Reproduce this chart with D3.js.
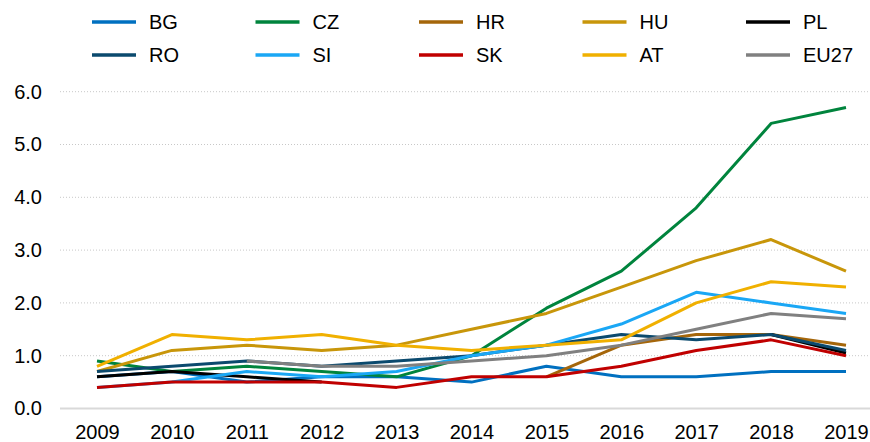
<!DOCTYPE html>
<html>
<head>
<meta charset="utf-8">
<script src="https://cdnjs.cloudflare.com/ajax/libs/d3/7.8.5/d3.min.js"></script>
<style>
  body { margin: 0; background: #fff; }
  text { font-family: "Liberation Sans", Arial, sans-serif; fill: #000; }
</style>
</head>
<body>
<script>
var years = [2009, 2010, 2011, 2012, 2013, 2014, 2015, 2016, 2017, 2018, 2019];
var yTicks = [0, 1, 2, 3, 4, 5, 6];

var BG   = [0.6, 0.7, 0.5, 0.6, 0.6, 0.5, 0.8, 0.6, 0.6, 0.7, 0.7];
var CZ   = [0.9, 0.7, 0.8, 0.7, 0.6, 1.0, 1.9, 2.6, 3.8, 5.4, 5.7];
var HR   = [null, null, null, null, null, null, 0.6, 1.2, 1.4, 1.4, 1.2];
var HU   = [0.7, 1.1, 1.2, 1.1, 1.2, 1.5, 1.8, 2.3, 2.8, 3.2, 2.6];
var PL   = [0.6, 0.7, 0.6, 0.5, null, null, null, null, null, 1.4, 1.05];
var RO   = [0.7, 0.8, 0.9, 0.8, 0.9, 1.0, 1.2, 1.4, 1.3, 1.4, 1.1];
var SI   = [0.4, 0.5, 0.7, 0.6, 0.7, 1.0, 1.2, 1.6, 2.2, 2.0, 1.8];
var SK   = [0.4, 0.5, 0.5, 0.5, 0.4, 0.6, 0.6, 0.8, 1.1, 1.3, 1.0];
var AT   = [0.8, 1.4, 1.3, 1.4, 1.2, 1.1, 1.2, 1.3, 2.0, 2.4, 2.3];
var EU27 = [null, null, 0.9, 0.8, 0.8, 0.9, 1.0, 1.2, 1.5, 1.8, 1.7];

var names  = ["BG", "CZ", "HR", "HU", "PL", "RO", "SI", "SK", "AT", "EU27"];
var colors = ["#0070C0", "#00843D", "#A5660A", "#C8960A", "#000000",
              "#0B4A6E", "#1AA7F5", "#C00000", "#F0B000", "#808080"];

var series = [BG, CZ, HR, HU, PL, RO, SI, SK, AT, EU27].map(function(vals, i) {
    return { name: names[i], color: colors[i], values: vals };
});

var width = 870, height = 442,
    plotLeft = 60, plotRight = 870,
    plotTop = 91.7, plotBottom = 408.5;

var svg = d3.select("body").append("svg")
    .attr("width", width)
    .attr("height", height);

var x = d3.scalePoint()
    .domain(years)
    .range([97, 846]);

var y = d3.scaleLinear()
    .domain([0, 6])
    .range([plotBottom, plotTop]);

// dotted gridlines
svg.append("g")
    .attr("class", "grid")
  .selectAll("line")
    .data(yTicks.slice(1))
  .enter().append("line")
    .attr("x1", plotLeft)
    .attr("x2", plotRight)
    .attr("y1", function(d) { return y(d); })
    .attr("y2", function(d) { return y(d); })
    .attr("stroke", "#c8c8c8")
    .attr("stroke-width", 1)
    .attr("stroke-dasharray", "1,2");

// baseline
svg.append("line")
    .attr("x1", plotLeft)
    .attr("x2", plotRight)
    .attr("y1", y(0))
    .attr("y2", y(0))
    .attr("stroke", "#d9d9d9")
    .attr("stroke-width", 2);

var yAxis = d3.axisLeft(y)
    .tickValues(yTicks)
    .tickSize(0)
    .tickPadding(18)
    .tickFormat(d3.format(".1f"));

svg.append("g")
    .attr("class", "y axis")
    .attr("transform", "translate(" + plotLeft + ",0)")
    .call(yAxis)
    .call(function(g) { g.select(".domain").remove(); })
    .selectAll("text")
    .style("font-size", "20px")
    .style("font-family", "'Liberation Sans', Arial, sans-serif")
    .attr("fill", "#000");

var xAxis = d3.axisBottom(x)
    .tickSize(0)
    .tickPadding(16);

svg.append("g")
    .attr("class", "x axis")
    .attr("transform", "translate(0," + plotBottom + ")")
    .call(xAxis)
    .call(function(g) { g.select(".domain").remove(); })
    .selectAll("text")
    .style("font-size", "20px")
    .style("font-family", "'Liberation Sans', Arial, sans-serif")
    .attr("fill", "#000");

var line = d3.line()
    .defined(function(d) { return d != null; })
    .x(function(d, i) { return x(years[i]); })
    .y(function(d) { return y(d); });

svg.append("g")
    .attr("class", "lines")
  .selectAll("path")
    .data(series)
  .enter().append("path")
    .attr("d", function(s) { return line(s.values); })
    .attr("fill", "none")
    .attr("stroke", function(s) { return s.color; })
    .attr("stroke-width", 3)
    .attr("stroke-linejoin", "round");

// legend: two rows of five
var legend = svg.append("g")
    .attr("class", "legend")
  .selectAll("g")
    .data(series)
  .enter().append("g")
    .attr("transform", function(s, i) {
        return "translate(" + (92 + (i % 5) * 163.5) + "," + (i < 5 ? 22 : 55) + ")";
    });

legend.append("line")
    .attr("x1", 0)
    .attr("x2", 44)
    .attr("stroke", function(s) { return s.color; })
    .attr("stroke-width", 3.5);

legend.append("text")
    .attr("x", 57)
    .attr("dy", "0.35em")
    .style("font-size", "20px")
    .text(function(s) { return s.name; });
</script>
</body>
</html>
